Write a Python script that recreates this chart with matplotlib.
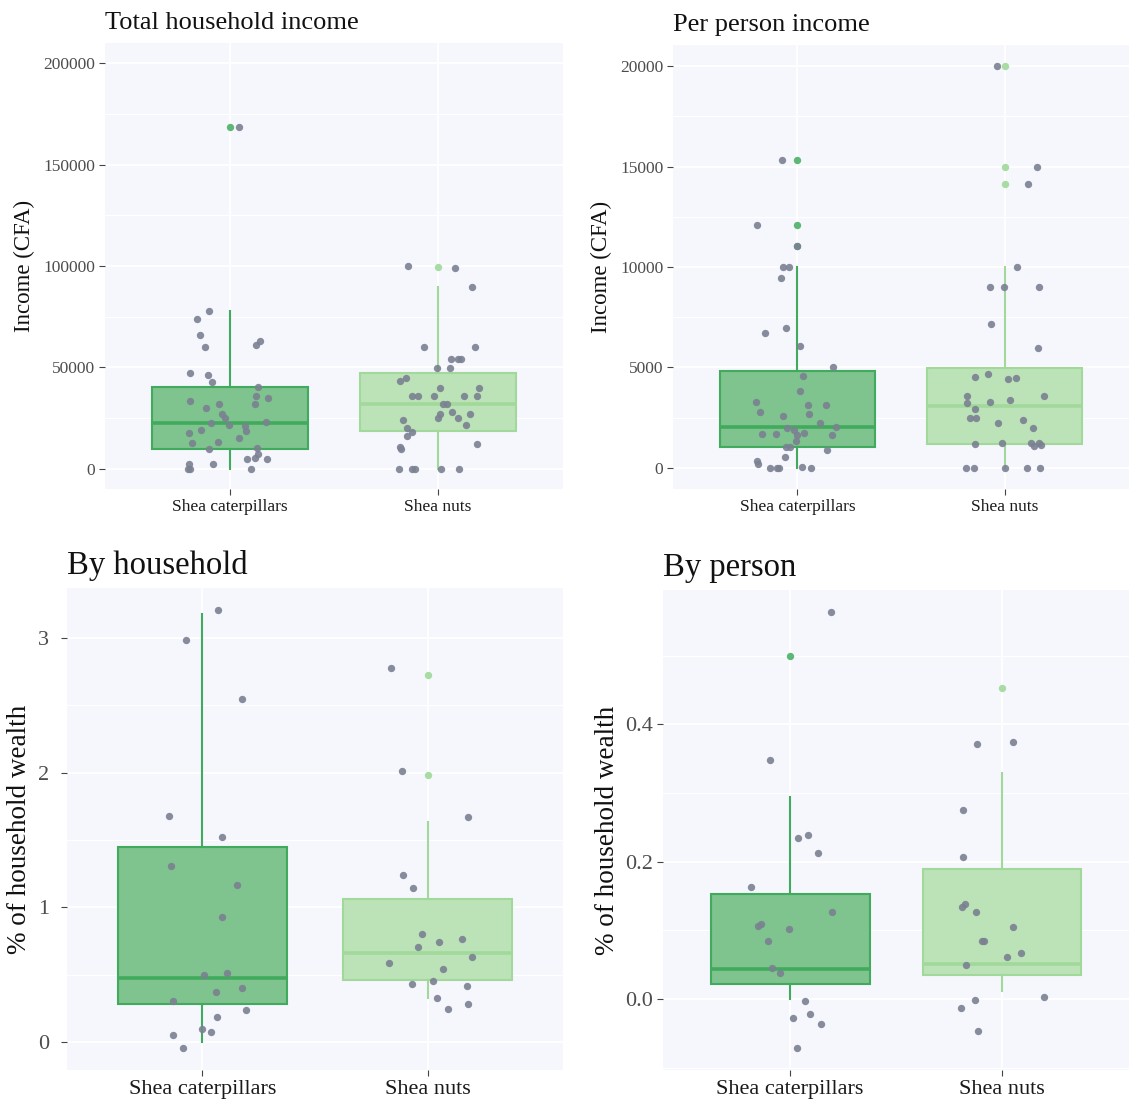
import matplotlib.pyplot as plt
import numpy as np

plt.rcParams['font.family'] = ['Liberation Serif', 'DejaVu Serif']

groups = ['Shea caterpillars', 'Shea nuts']

# --- Total household income ---
p1_cat_y = [168550, 77690, 73740, 66170, 59900, 62880, 60900, 47240, 46090, 42800,
            40160, 35880, 34900, 33580, 31770, 31770, 29960, 27160, 25020, 22710,
            22880, 21400, 21230, 19090, 18600, 17780, 15310, 12840, 13170, 9710,
            10200, 7410, 2470, 4770, 5270, 4610, 2140, 0, 0, 0]
p1_cat_dx = [0.044, -0.10, -0.16, -0.145, -0.12, 0.145, 0.124, -0.19, -0.105, -0.086,
             0.133, 0.127, 0.183, -0.19, 0.122, -0.052, -0.115, -0.04, -0.026, -0.09,
             0.175, -0.005, 0.072, -0.138, 0.077, -0.196, 0.044, -0.18, -0.056, -0.10,
             0.13, 0.136, -0.08, 0.084, 0.12, 0.18, -0.196, -0.2, -0.19, 0.103]
p1_nut_y = [100080, 99090, 89870, 59900, 59900, 53990, 53990, 53990, 49710, 49710,
            44770, 43130, 39830, 39830, 35880, 35880, 35880, 35880, 35880, 31770,
            31770, 27000, 27820, 27000, 25020, 25020, 24030, 21560, 20250, 17940,
            16130, 12020, 10700, 9880, 0, 0, 0, 0, 0]
p1_nut_dx = [-0.145, 0.082, 0.162, -0.066, 0.175, 0.06, 0.094, 0.108, -0.007, 0.058,
             -0.152, -0.185, 0.01, 0.195, -0.127, -0.096, -0.02, 0.124, 0.188, 0.024,
             0.045, 0.007, 0.065, 0.152, 0, 0.094, -0.17, 0.133, -0.148, -0.124,
             -0.15, 0.188, -0.185, -0.178, -0.19, -0.124, -0.11, 0.016, 0.1]
p1_box = [(9550, 22710, 40160, 0, 77690), (18760, 31930, 47400, 0, 89870)]
p1_out = [[168550], [99580]]

# --- Per person income ---
p2_cat_y = [15310, 12080, 11020, 9990, 9990, 9430, 6690, 6980, 6080, 5020,
            4560, 3810, 3260, 3150, 3150, 2770, 2670, 2570, 2240, 2050,
            2000, 1870, 1710, 1710, 1720, 1620, 1660, 1340, 1060, 1060,
            900, 530, 350, 170, 0, 0, 0, 50, 0]
p2_cat_dx = [-0.074, -0.197, 0, -0.067, -0.04, -0.079, -0.155, -0.054, 0.015, 0.173,
             0.025, 0.015, -0.2, 0.049, 0.136, -0.178, 0.057, -0.069, 0.109, 0.188,
             -0.049, -0.017, -0.173, -0.104, 0.03, 0.165, 0, -0.008, -0.054, -0.034,
             0.141, -0.061, -0.193, -0.192, -0.134, -0.099, -0.089, 0.022, 0.064]
p2_nut_y = [20000, 14980, 14120, 9990, 8980, 8980, 8980, 7170, 5970, 4520,
            4690, 4440, 4470, 3560, 3600, 3250, 3280, 3360, 2950, 2490,
            2490, 2390, 2250, 2000, 1190, 1230, 1260, 1110, 1240, 1130,
            0, 0, 0, 0, 0]
p2_nut_dx = [-0.037, 0.158, 0.111, 0.062, -0.072, -0.005, 0.168, -0.066, 0.16, -0.143,
             -0.079, 0.018, 0.057, -0.18, 0.19, -0.18, -0.069, 0.027, -0.143, -0.166,
             -0.138, 0.091, -0.034, 0.136, -0.143, -0.015, 0.128, 0.141, 0.165, 0.176,
             -0.185, -0.146, 0, 0.106, 0.171]
p2_box = [(1060, 2050, 4810, 0, 9990), (1210, 3100, 4990, 0, 10000)]
p2_out = [[15310, 12080, 11020], [20000, 14980, 14120]]

# --- By household (% of household wealth) ---
p3_cat_y = [3.207, 2.981, 2.543, 1.677, 1.519, 1.304, 1.163, 0.931, 0.515, 0.493,
            0.403, 0.368, 0.302, 0.237, 0.182, 0.098, 0.074, 0.052, -0.046]
p3_cat_dx = [0.068, -0.07, 0.178, -0.147, 0.086, -0.139, 0.154, 0.089, 0.108, 0.01,
             0.178, 0.061, -0.131, 0.194, 0.065, -0.002, 0.039, -0.131, -0.087]
p3_nut_y = [2.774, 2.015, 1.669, 1.236, 1.143, 0.800, 0.708, 0.743, 0.765, 0.632,
            0.583, 0.539, 0.433, 0.452, 0.414, 0.329, 0.245, 0.283]
p3_nut_dx = [-0.163, -0.112, 0.181, -0.11, -0.065, -0.026, -0.042, 0.052, 0.154, 0.196,
             -0.173, 0.068, -0.071, 0.023, 0.176, 0.04, 0.089, 0.18]
p3_box = [(0.278, 0.476, 1.448, 0.0, 3.177), (0.457, 0.659, 1.062, 0.327, 1.636)]
p3_out = [[], [2.723, 1.982]]

# --- By person (% of household wealth) ---
p4_cat_y = [0.5636, 0.3474, 0.2348, 0.238, 0.213, 0.1631, 0.1264, 0.1057, 0.1094,
            0.1015, 0.0839, 0.0457, 0.0377, -0.0032, -0.0276, -0.0212, -0.0367, -0.0717]
p4_cat_dx = [0.191, -0.097, 0.038, 0.086, 0.132, -0.185, 0.198, -0.15, -0.137,
             -0.007, -0.104, -0.087, -0.048, 0.071, 0.012, 0.092, 0.148, 0.033]
p4_nut_y = [0.3713, 0.374, 0.2746, 0.2066, 0.1344, 0.1381, 0.1259, 0.1052, 0.0839,
            0.0845, 0.0616, 0.0669, 0.0499, 0.0032, -0.0016, -0.0138, -0.0467]
p4_nut_dx = [-0.12, 0.051, -0.186, -0.183, -0.189, -0.176, -0.124, 0.053, -0.096,
             -0.084, 0.026, 0.091, -0.171, 0.201, -0.128, -0.193, -0.115]
p4_box = [(0.0212, 0.0436, 0.153, 0.0, 0.2938), (0.0351, 0.051, 0.1886, 0.0117, 0.3293)]
p4_out = [[0.4999], [0.4531]]

edge_cols = ['#41ab5d', '#a1d99b']
fill_cols = ['#7fc38e', '#bce3b8']
out_cols = ['#5cb874', '#a8dca2']
pt_col = '#7a8191'
bg = '#f6f6fd'


def draw_panel(ax, box, outs, cat_y, cat_dx, nut_y, nut_dx, ylim, yticks, minor,
               title, ylabel, fmt, title_fs, tick_fs, ylab_fs, ypad, lpad):
    ax.set_facecolor(bg)
    for s in ax.spines.values():
        s.set_visible(False)
    for v in minor:
        ax.axhline(v, color='white', lw=0.8, zorder=0)
    for v in yticks:
        ax.axhline(v, color='white', lw=1.4, zorder=0)
    for x in [1, 2]:
        ax.axvline(x, color='white', lw=1.4, zorder=0)

    for i, (q1, med, q3, lo, hi) in enumerate(box):
        st = [dict(q1=q1, med=med, q3=q3, whislo=lo, whishi=hi, fliers=[])]
        ax.bxp(st, positions=[i + 1], widths=0.75, patch_artist=True, showfliers=False,
               showcaps=False,
               boxprops=dict(facecolor=fill_cols[i], edgecolor=edge_cols[i], lw=1.5),
               whiskerprops=dict(color=edge_cols[i], lw=1.5),
               medianprops=dict(color=edge_cols[i], lw=2.6))
        if outs[i]:
            ax.scatter([i + 1] * len(outs[i]), outs[i], s=28, color=out_cols[i],
                       zorder=3, lw=0)

    ax.scatter(1 + np.array(cat_dx), cat_y, s=28, color=pt_col, alpha=0.9, lw=0, zorder=4)
    ax.scatter(2 + np.array(nut_dx), nut_y, s=28, color=pt_col, alpha=0.9, lw=0, zorder=4)

    ax.set_xlim(0.4, 2.6)
    ax.set_ylim(*ylim)
    ax.set_xticks([1, 2])
    ax.set_xticklabels(groups, fontsize=tick_fs, color='#1a1a1a')
    ax.set_yticks(yticks)
    ax.set_yticklabels([fmt % v for v in yticks], fontsize=tick_fs, color='#4d4d4d')
    ax.tick_params(length=4, color='#444444', width=0.8, pad=3)
    ax.tick_params(axis='y', pad=ypad)
    ax.set_ylabel(ylabel, fontsize=ylab_fs, color='#111111', labelpad=lpad)
    ax.set_title(title, loc='left', fontsize=title_fs, pad=10, color='#111111')


fig = plt.figure(figsize=(11.29, 11.02), dpi=100)
ax1 = fig.add_axes([0.093, 0.5563, 0.4057, 0.4047])
ax2 = fig.add_axes([0.5961, 0.5563, 0.4039, 0.4029])
ax3 = fig.add_axes([0.0593, 0.029, 0.4393, 0.4374])
ax4 = fig.add_axes([0.5873, 0.029, 0.4127, 0.4356])

draw_panel(ax1, p1_box, p1_out, p1_cat_y, p1_cat_dx, p1_nut_y, p1_nut_dx,
           (-10000, 210000), [0, 50000, 100000, 150000, 200000],
           [25000, 75000, 125000, 175000], 'Total household income', 'Income (CFA)',
           '%d', 19, 12.5, 16.5, 3, 6)
draw_panel(ax2, p2_box, p2_out, p2_cat_y, p2_cat_dx, p2_nut_y, p2_nut_dx,
           (-1050, 21050), [0, 5000, 10000, 15000, 20000],
           [2500, 7500, 12500, 17500], 'Per person income', 'Income (CFA)',
           '%d', 19, 12.5, 16.5, 3, 6)
draw_panel(ax3, p3_box, p3_out, p3_cat_y, p3_cat_dx, p3_nut_y, p3_nut_dx,
           (-0.209, 3.37), [0, 1, 2, 3], [0.5, 1.5, 2.5], 'By household',
           '% of household wealth', '%d', 23.5, 16, 19.5, 9, 4)
draw_panel(ax4, p4_box, p4_out, p4_cat_y, p4_cat_dx, p4_nut_y, p4_nut_dx,
           (-0.1035, 0.5954), [0.0, 0.2, 0.4], [-0.1, 0.1, 0.3, 0.5], 'By person',
           '% of household wealth', '%.1f', 23.5, 16, 19.5, 3, 4)

fig.savefig('out.png', dpi=100, facecolor='white')
